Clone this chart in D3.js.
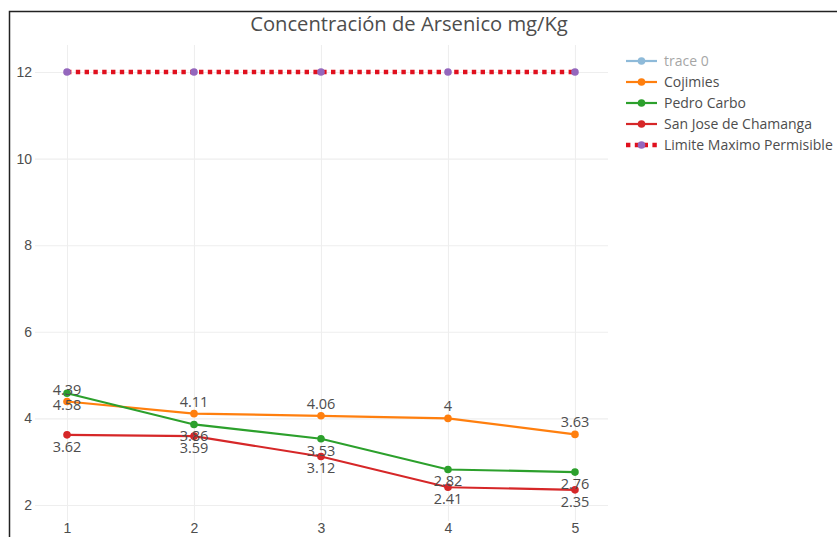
<!DOCTYPE html>
<html><head><meta charset="utf-8">
<script src="https://cdn.jsdelivr.net/npm/d3@7"></script>
<style>html,body{margin:0;padding:0;background:#fff;}svg{display:block;font-family:"Open Sans",sans-serif;}</style>
</head><body><svg id="c" width="837" height="537"></svg>
<script>
const xValues = [1, 2, 3, 4, 5];
const cojimies = [4.39, 4.11, 4.06, 4, 3.63];
const pedroCarbo = [4.58, 3.86, 3.53, 2.82, 2.76];
const sanJose = [3.62, 3.59, 3.12, 2.41, 2.35];
const limite = [12, 12, 12, 12, 12];
const yTicks = [2, 4, 6, 8, 10, 12];
const legendNames = ["trace 0", "Cojimies", "Pedro Carbo", "San Jose de Chamanga", "Limite Maximo Permisible"];
const title = "Concentración de Arsenico mg/Kg";

const textColor = "#4d4d4d";
const svg = d3.select("#c");
const plot = {left: 35, right: 608, top: 45, bottom: 521};
const x = d3.scaleLinear().domain([0.748, 5.26]).range([plot.left, plot.right]);
const y = d3.scaleLinear().domain([1.63, 12.625]).range([plot.bottom, plot.top]);

// frame
svg.append("path").attr("d", "M9.5,537 V11.5 H837").attr("fill", "none").attr("stroke", "#222").attr("stroke-width", 1.5);

// grid
const gx = d3.axisBottom(x).tickValues(xValues).tickSize(-(plot.bottom - plot.top)).tickFormat(d3.format("d"));
const gxg = svg.append("g").attr("transform", `translate(0,${plot.bottom})`).call(gx);
gxg.select(".domain").remove();
gxg.selectAll(".tick line").attr("stroke", "#eee").attr("stroke-width", 1.1);
gxg.selectAll(".tick text").attr("fill", textColor).attr("font-size", 14).attr("dy", 0).attr("y", 12);

const gy = d3.axisLeft(y).tickValues(yTicks).tickSize(-(plot.right - plot.left)).tickFormat(d3.format("d"));
const gyg = svg.append("g").attr("transform", `translate(${plot.left},0)`).call(gy);
gyg.select(".domain").remove();
gyg.selectAll(".tick line").attr("stroke", "#eee").attr("stroke-width", 1.1);
gyg.selectAll(".tick text").attr("fill", textColor).attr("font-size", 14).attr("x", -3);

// title
svg.append("text").attr("x", 409).attr("y", 31).attr("text-anchor", "middle")
  .attr("font-size", 20.2).attr("fill", textColor).text(title);

const line = d3.line().x((d, i) => x(xValues[i])).y(d => y(d));

const series = [
  {vals: cojimies, color: "#ff7f0e", pos: "top"},
  {vals: pedroCarbo, color: "#2ca02c", pos: "bottom"},
  {vals: sanJose, color: "#d62728", pos: "bottom"}
];

// limite line
svg.append("path").datum(limite).attr("d", line).attr("fill", "none")
  .attr("stroke", "#e0101e").attr("stroke-width", 4.4).attr("stroke-dasharray", "4.4,4.4");
svg.append("g").selectAll("circle").data(limite).join("circle")
  .attr("cx", (d, i) => x(xValues[i])).attr("cy", d => y(d)).attr("r", 3.8).attr("fill", "#9467bd");

series.forEach(s => {
  svg.append("path").datum(s.vals).attr("d", line).attr("fill", "none")
    .attr("stroke", s.color).attr("stroke-width", 2.2);
  svg.append("g").selectAll("circle").data(s.vals).join("circle")
    .attr("cx", (d, i) => x(xValues[i])).attr("cy", d => y(d)).attr("r", 3.8).attr("fill", s.color);
});
series.forEach(s => {
  svg.append("g").selectAll("text").data(s.vals).join("text")
    .attr("x", (d, i) => x(xValues[i])).attr("y", d => y(d) + (s.pos === "top" ? -7 : 17))
    .attr("text-anchor", "middle").attr("font-size", 14.5).attr("fill", textColor)
    .text(d => String(d));
});

// legend
const legendColors = ["#1f77b4", "#ff7f0e", "#2ca02c", "#d62728", "#e0101e"];
const lg = svg.append("g");
legendNames.forEach((name, i) => {
  const yy = 61 + i * 21;
  const g = lg.append("g").attr("opacity", i === 0 ? 0.5 : 1);
  if (i === 4) {
    g.append("line").attr("x1", 626).attr("x2", 657).attr("y1", yy).attr("y2", yy)
      .attr("stroke", legendColors[i]).attr("stroke-width", 4.4).attr("stroke-dasharray", "4.4,4.4");
    g.append("circle").attr("cx", 641.5).attr("cy", yy).attr("r", 3.8).attr("fill", "#9467bd");
  } else {
    g.append("line").attr("x1", 626).attr("x2", 657).attr("y1", yy).attr("y2", yy)
      .attr("stroke", legendColors[i]).attr("stroke-width", 2.2);
    g.append("circle").attr("cx", 641.5).attr("cy", yy).attr("r", 3.8).attr("fill", legendColors[i]);
  }
  g.append("text").attr("x", 664).attr("y", yy + 5).attr("font-size", 14).attr("fill", textColor).text(name);
});
</script></body></html>
